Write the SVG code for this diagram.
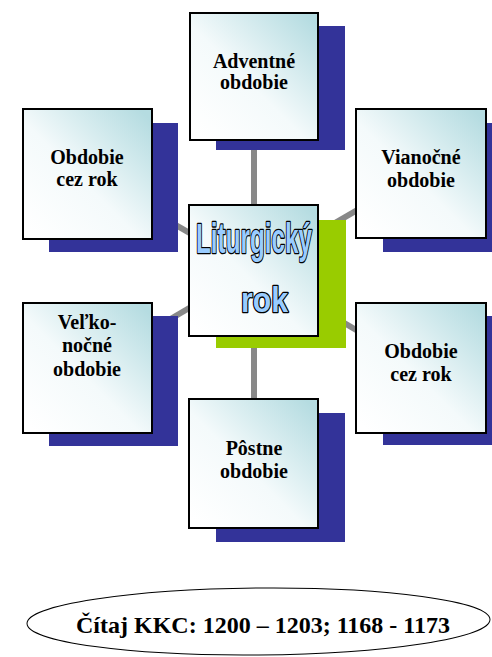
<svg xmlns="http://www.w3.org/2000/svg" width="492" height="657" viewBox="0 0 492 657">
<defs>
<linearGradient id="boxfill" x1="0.05" y1="0.95" x2="0.95" y2="0.05">
<stop offset="0" stop-color="#ffffff"/>
<stop offset="0.45" stop-color="#f4fafb"/>
<stop offset="1" stop-color="#b5dce1"/>
</linearGradient>
<style>
.box{fill:url(#boxfill);stroke:#000;stroke-width:2}
.sh{fill:#333399}
.green{fill:#99cc00}
.con{stroke:#888888;stroke-width:6;fill:none}
.wa{fill:#99ccff;stroke:#000;stroke-width:2.6;paint-order:stroke;stroke-linejoin:round}
</style>
</defs>
<rect width="492" height="657" fill="#ffffff"/>
<g id="connectors">
<line class="con" x1="254" y1="270" x2="254" y2="76"/>
<line class="con" x1="254" y1="270" x2="254" y2="463"/>
<line class="con" x1="254" y1="270" x2="87" y2="174"/>
<line class="con" x1="254" y1="270" x2="421" y2="173"/>
<line class="con" x1="254" y1="270" x2="87" y2="368"/>
<line class="con" x1="254" y1="270" x2="421" y2="368"/>
</g>
<g font-family="'Liberation Serif', 'Times New Roman', serif" font-weight="bold" font-size="20" text-anchor="middle" fill="#000">
<g id="node-adventne">
<rect class="sh" x="216" y="26" width="129" height="124"/>
<rect class="box" x="190" y="13" width="128" height="127"/>
<text x="254" y="68">Adventné</text>
<text x="254" y="89">obdobie</text>
</g>
<g id="node-cezrok-left">
<rect class="sh" x="49" y="123" width="129" height="129"/>
<rect class="box" x="23" y="109" width="129" height="130"/>
<text x="87" y="164">Obdobie</text>
<text x="87" y="186">cez rok</text>
</g>
<g id="node-vianocne">
<rect class="sh" x="383" y="123" width="129" height="129"/>
<rect class="box" x="356" y="109" width="130" height="129"/>
<text x="421" y="164">Vianočné</text>
<text x="421" y="187">obdobie</text>
</g>
<g id="node-velkonocne">
<rect class="sh" x="49" y="316" width="129" height="130"/>
<rect class="box" x="23" y="303" width="129" height="130"/>
<text x="87" y="329">Veľko-</text>
<text x="87" y="352">nočné</text>
<text x="87" y="376">obdobie</text>
</g>
<g id="node-cezrok-right">
<rect class="sh" x="383" y="316" width="129" height="129"/>
<rect class="box" x="356" y="303" width="130" height="130"/>
<text x="421" y="358">Obdobie</text>
<text x="421" y="381">cez rok</text>
</g>
<g id="node-postne">
<rect class="sh" x="216" y="413" width="129" height="129"/>
<rect class="box" x="189" y="399" width="129" height="129"/>
<text x="254" y="455">Pôstne</text>
<text x="254" y="478">obdobie</text>
</g>
</g>
<g id="node-center" font-family="'Liberation Sans', Arial, sans-serif" font-weight="bold">
<rect class="green" x="216" y="220" width="130" height="128"/>
<rect class="box" x="189" y="205" width="129" height="131"/>
<text class="wa" x="196" y="253" font-size="42" textLength="116" lengthAdjust="spacingAndGlyphs">Liturgický</text>
<text class="wa" x="241" y="312" font-size="35" textLength="47" lengthAdjust="spacingAndGlyphs">rok</text>
</g>
<g id="node-citaj">
<ellipse cx="258.5" cy="621.5" rx="231.5" ry="33.5" fill="none" stroke="#000" stroke-width="1" transform="rotate(-0.5 258.5 621.5)"/>
<text x="263" y="633" font-family="'Liberation Serif', 'Times New Roman', serif" font-weight="bold" font-size="24" text-anchor="middle" fill="#000">Čítaj KKC: 1200 – 1203; 1168 - 1173</text>
</g>
</svg>
